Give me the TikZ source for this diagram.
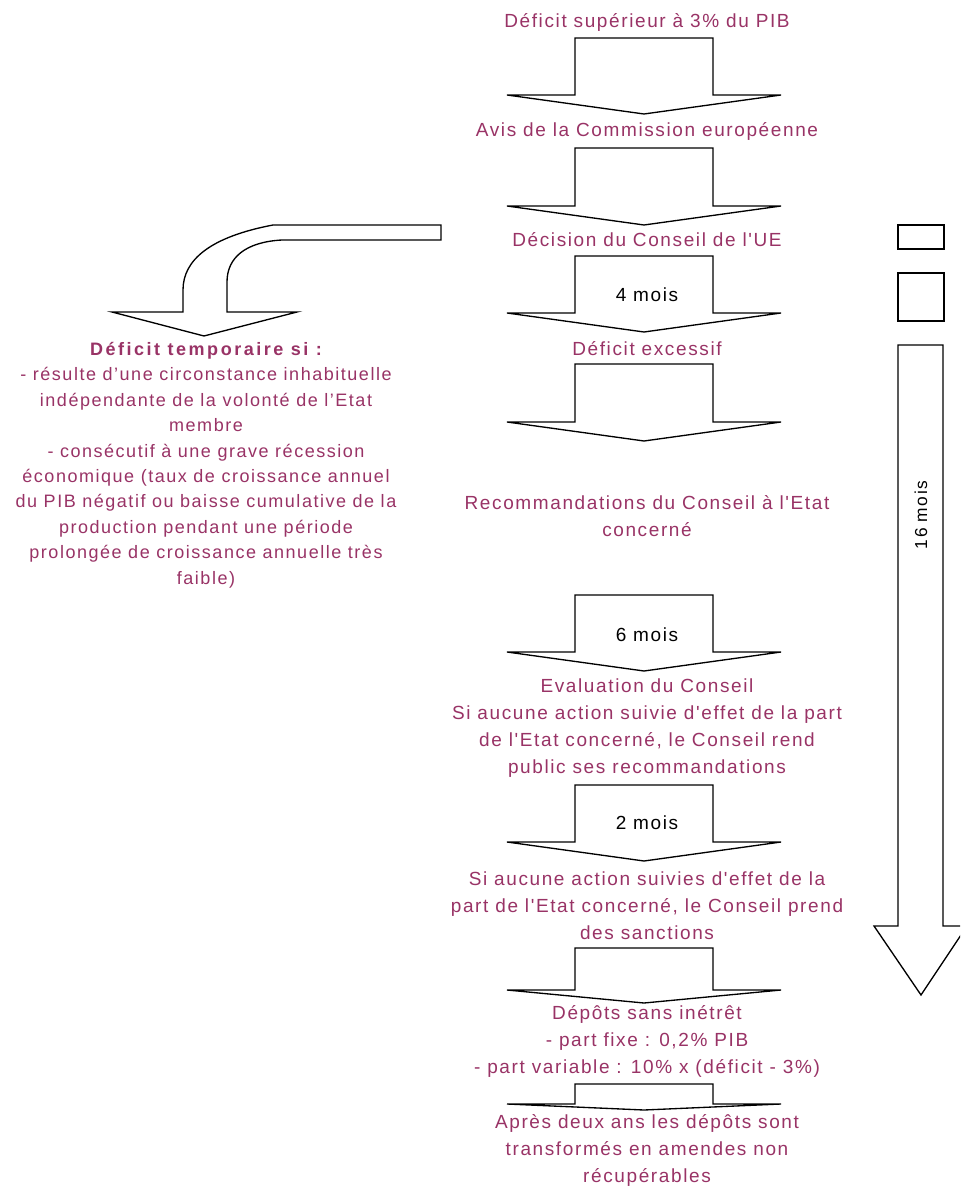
\documentclass[tikz,border=0pt]{standalone}
\usepackage{fontspec}
\setmainfont{Liberation Sans}[LetterSpace=8.5, Ligatures=TeXOff]
\definecolor{txtc}{RGB}{153,51,102}
\newcommand\mainsz{\fontsize{14.25pt}{20.25pt}\selectfont}
\newcommand\leftsz{\fontsize{13.5pt}{19.1pt}\selectfont}
\newcommand\dnarrow[3]{\draw[blk] (575,#1) -- (713,#1) -- (713,#2) -- (781,#2) -- (644,#3) -- (507,#2) -- (575,#2) -- cycle;}
\tikzset{
  blk/.style={draw=black, line width=1pt, fill=white, line join=miter},
  lbl/.style={text=txtc, align=center, inner sep=0pt, font=\mainsz},
  lbll/.style={text=txtc, align=center, inner sep=0pt, font=\leftsz},
  dur/.style={text=black, inner sep=0pt, font=\mainsz}
}
\begin{document}
\begin{tikzpicture}[x=0.75pt,y=-0.75pt]
\clip (0,0) rectangle (960,1187);
\fill[white] (0,0) rectangle (960,1187);
% central chain of block arrows
\dnarrow{38}{95}{114}
\dnarrow{148}{206}{225}
\dnarrow{256}{313}{332}
\dnarrow{364}{422}{441}
\dnarrow{595}{652}{671}
\dnarrow{785}{842}{861}
\dnarrow{948}{990}{1003}
\dnarrow{1084}{1104}{1110}
% curved arrow to the left
\draw[blk] (441,225) -- (273,225) .. controls (210,237) and (183,260) .. (183,290) -- (183,312) -- (112,312) -- (204,336) -- (297,312) -- (227,312) -- (227,282) .. controls (227,258) and (245,242) .. (282,240) -- (441,240) -- cycle;
% right column
\draw[blk] (898,225) rectangle (944,249);
\draw[blk] (898,273) rectangle (944,321);
\draw[blk] (898,345) -- (943,345) -- (943,926) -- (967,926) -- (921,995) -- (874,926) -- (898,926) -- cycle;
\node[dur, rotate=90, font=\fontsize{13pt}{16pt}\selectfont] (m16) at (921,515) {16 mois};
% texts
\node[lbl] (t1) at (647,22) {Déficit supérieur à 3\% du PIB};
\node[lbl] (t2) at (647,131) {Avis de la Commission européenne};
\node[lbl] (t3) at (647,240) {Décision du Conseil de l'UE};
\node[dur] (m4) at (647,295) {4 mois};
\node[lbl] (t4) at (647,349) {Déficit excessif};
\node[lbl] (t5) at (647,516) {Recommandations du Conseil à l'Etat\\concerné};
\node[dur] (m6) at (647,635) {6 mois};
\node[lbl] (t6) at (647,728) {Evaluation du Conseil\\Si aucune action suivie d'effet de la part\\de l'Etat concerné, le Conseil rend\\public ses recommandations};
\node[dur] (m2) at (647,823) {2 mois};
\node[lbl] (t7) at (647,906) {Si aucune action suivies d'effet de la\\part de l'Etat concerné, le Conseil prend\\des sanctions};
\node[lbl] (t8) at (647,1041) {Dépôts sans inétrêt\\- part fixe : 0,2\% PIB\\- part variable : 10\% x (déficit - 3\%)};
\node[lbl] (t9) at (647,1150) {Après deux ans les dépôts sont\\transformés en amendes non\\récupérables};
\node[lbll] (tl) at (206,465) {{\bfseries\addfontfeature{LetterSpace=14}Déficit temporaire si :}\\- résulte d’une circonstance inhabituelle\\indépendante de la volonté de l’Etat\\membre\\- consécutif à une grave récession\\économique (taux de croissance annuel\\du PIB négatif ou baisse cumulative de la\\production pendant une période\\prolongée de croissance annuelle très\\faible)};
\end{tikzpicture}
\end{document}
